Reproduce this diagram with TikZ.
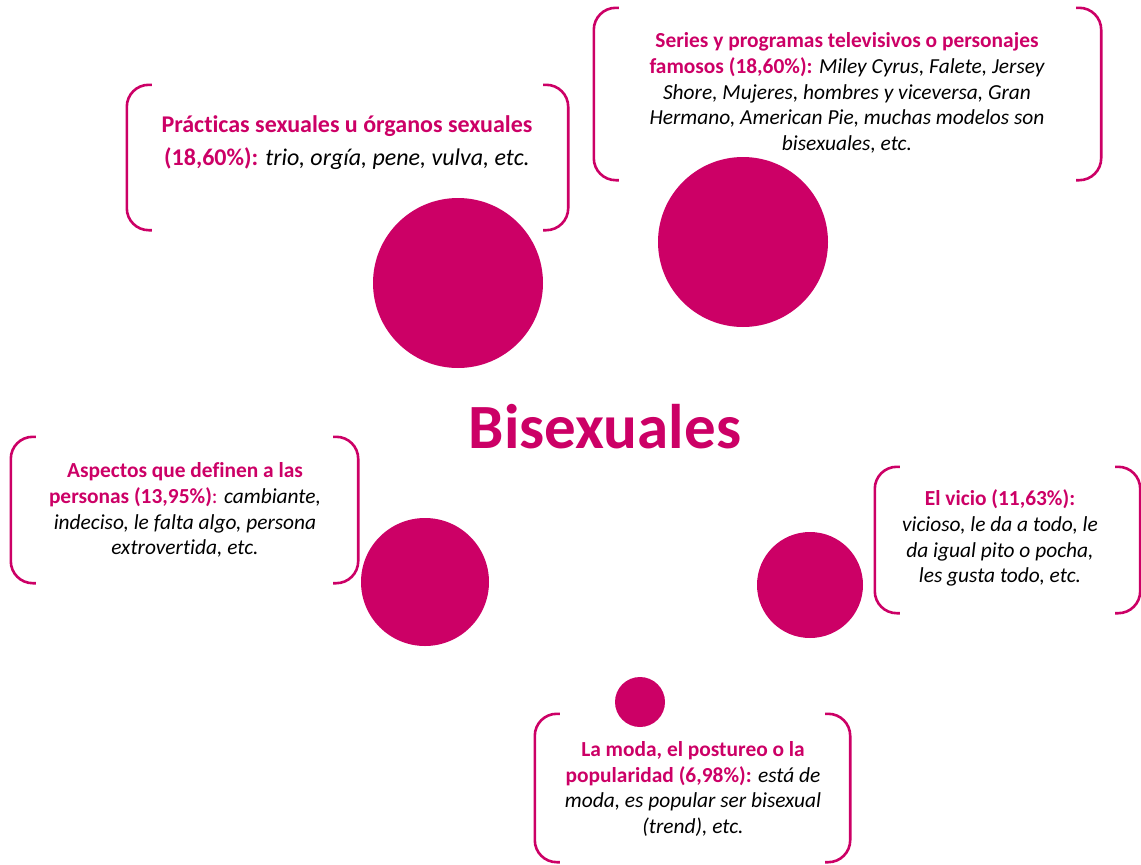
\documentclass[tikz,border=0pt]{standalone}
\usepackage{fontspec}
\setmainfont[Ligatures=NoCommon]{Carlito}
\usetikzlibrary{positioning}
\definecolor{rosa}{RGB}{204, 0, 102}
\newcommand{\hd}[1]{{\upshape\bfseries\color{rosa}#1}}

\begin{document}
\begin{tikzpicture}[
    x=1pt, y=-1pt,
    % node styles
    frame/.style = {
      draw=none,
      inner sep=0pt,
      rectangle
    },
    txt/.style = {
      align=center,
      inner sep=0pt,
      font=\fontsize{21.4}{25.8}\selectfont\itshape
    },
    dot/.style = {
      circle,
      fill=rosa,
      draw=none,
      inner sep=0pt
    },
    % bracket style
    brk/.style = {line width=2.6pt, draw=rosa, rounded corners=22pt}
  ]
  \useasboundingbox (0,0) rectangle (1141,865);

  % --- Title
  \node[font=\fontsize{63}{70}\selectfont\bfseries, text=rosa] (title) at (605,427) {Bisexuales};

  % --- Circles
  \node[dot, minimum size=170pt] (c1) at (458,283) {};
  \node[dot, minimum size=170pt] (c2) at (743,242) {};
  \node[dot, minimum size=128pt] (c3) at (425,582) {};
  \node[dot, minimum size=106pt] (c4) at (810,585) {};
  \node[dot, minimum size=50pt]  (c5) at (640,702) {};

  % --- Frames
  \node[frame, minimum width=441pt, minimum height=145pt] (f1) at (347.5,157.5) {};
  \node[frame, minimum width=507pt, minimum height=172pt] (f2) at (847.5,94) {};
  \node[frame, minimum width=347pt, minimum height=146pt] (f3) at (184.5,510) {};
  \node[frame, minimum width=265pt, minimum height=146pt] (f4) at (1007.5,540) {};
  \node[frame, minimum width=315pt, minimum height=148pt] (f5) at (692.5,788) {};

  % --- Texts
  \node[txt, font=\fontsize{24}{33}\selectfont\itshape] (t1) at (347,143)
    {\hd{Prácticas sexuales u órganos sexuales}\\
     \hd{(18,60\%):} trio, orgía, pene, vulva, etc.};
  \node[txt] (t2) at (847,93)
    {\hd{Series y programas televisivos o personajes}\\
     \hd{famosos (18,60\%):} Miley Cyrus, Falete, Jersey\\
     Shore, Mujeres, hombres y viceversa, Gran\\
     Hermano, American Pie, muchas modelos son\\
     bisexuales, etc.};
  \node[txt] (t3) at (185,510)
    {\hd{Aspectos que definen a las}\\
     \hd{personas (13,95\%)}{\upshape\color{rosa}:} cambiante,\\
     indeciso, le falta algo, persona\\
     extrovertida, etc.};
  \node[txt] (t4) at (1000,538)
    {\hd{El vicio (11,63\%):}\\
     vicioso, le da a todo, le\\
     da igual pito o pocha,\\
     les gusta todo, etc.};
  \node[txt] (t5) at (693,789)
    {\hd{La moda, el postureo o la}\\
     \hd{popularidad (6,98\%):} está de\\
     moda, es popular ser bisexual\\
     (trend), etc.};

  % --- Brackets
  \draw[brk] ([xshift=25pt]f1.north west) -- (f1.north west) -- (f1.south west) -- ([xshift=25pt]f1.south west);
  \draw[brk] ([xshift=-25pt]f1.north east) -- (f1.north east) -- (f1.south east) -- ([xshift=-25pt]f1.south east);
  \draw[brk] ([xshift=25pt]f2.north west) -- (f2.north west) -- (f2.south west) -- ([xshift=25pt]f2.south west);
  \draw[brk] ([xshift=-25pt]f2.north east) -- (f2.north east) -- (f2.south east) -- ([xshift=-25pt]f2.south east);
  \draw[brk] ([xshift=25pt]f3.north west) -- (f3.north west) -- (f3.south west) -- ([xshift=25pt]f3.south west);
  \draw[brk] ([xshift=-25pt]f3.north east) -- (f3.north east) -- (f3.south east) -- ([xshift=-25pt]f3.south east);
  \draw[brk] ([xshift=25pt]f4.north west) -- (f4.north west) -- (f4.south west) -- ([xshift=25pt]f4.south west);
  \draw[brk] ([xshift=-25pt]f4.north east) -- (f4.north east) -- (f4.south east) -- ([xshift=-25pt]f4.south east);
  \draw[brk] ([xshift=25pt]f5.north west) -- (f5.north west) -- (f5.south west) -- ([xshift=25pt]f5.south west);
  \draw[brk] ([xshift=-25pt]f5.north east) -- (f5.north east) -- (f5.south east) -- ([xshift=-25pt]f5.south east);

\end{tikzpicture}
\end{document}
